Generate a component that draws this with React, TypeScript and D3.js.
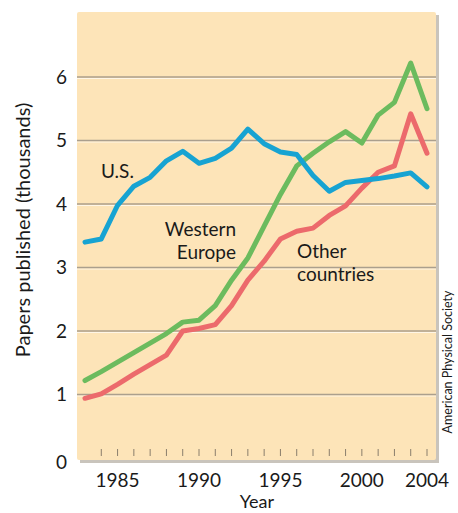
import React, { useEffect, useRef } from 'react';
import * as d3 from 'd3';

const years = [1983, 1984, 1985, 1986, 1987, 1988, 1989, 1990, 1991, 1992, 1993,
  1994, 1995, 1996, 1997, 1998, 1999, 2000, 2001, 2002, 2003, 2004];

const usPapers = [3.40, 3.45, 3.98, 4.28, 4.42, 4.68, 4.83, 4.64, 4.72, 4.88, 5.18,
  4.95, 4.82, 4.78, 4.45, 4.20, 4.34, 4.37, 4.40, 4.44, 4.49, 4.27];
const europePapers = [1.22, 1.36, 1.51, 1.66, 1.81, 1.96, 2.14, 2.17, 2.40, 2.80, 3.15,
  3.65, 4.15, 4.60, 4.80, 4.98, 5.14, 4.96, 5.40, 5.60, 6.22, 5.50];
const otherPapers = [0.94, 1.01, 1.16, 1.32, 1.47, 1.62, 2.00, 2.04, 2.10, 2.40, 2.80,
  3.10, 3.45, 3.57, 3.62, 3.82, 3.97, 4.25, 4.50, 4.60, 5.42, 4.80];

const yTicks = [0, 1, 2, 3, 4, 5, 6];
const xLabels = [1985, 1990, 1995, 2000, 2004];

const W = 458;
const H = 513;
const font = 'Lato, "Open Sans", sans-serif';

export default function App() {
  const ref = useRef<SVGSVGElement>(null);

  useEffect(() => {
    document.body.style.margin = '0';
    const svg = d3.select(ref.current);
    svg.selectAll('*').remove();

    const plot = { left: 77, right: 436, top: 12, bottom: 460 };

    const x = d3.scaleLinear().domain([1983, 2004]).range([85, 427]);
    const y = d3.scaleLinear().domain([0, 6]).range([458, 77]);

    // shadow + background
    svg.append('rect')
      .attr('x', plot.left + 3).attr('y', plot.top + 3)
      .attr('width', plot.right - plot.left).attr('height', plot.bottom - plot.top)
      .attr('fill', '#c9c4bc');
    svg.append('rect')
      .attr('x', plot.left).attr('y', plot.top)
      .attr('width', plot.right - plot.left).attr('height', plot.bottom - plot.top)
      .attr('rx', 2)
      .attr('fill', '#fde4b8');

    // grid
    const grid = yTicks.filter(d => d > 0);
    svg.append('g').selectAll('line.hl').data(grid).enter().append('line')
      .attr('x1', plot.left).attr('x2', plot.right)
      .attr('y1', d => y(d) + 1.5).attr('y2', d => y(d) + 1.5)
      .attr('stroke', '#fff6e6').attr('stroke-width', 1.2);
    svg.append('g').selectAll('line.gl').data(grid).enter().append('line')
      .attr('x1', plot.left).attr('x2', plot.right)
      .attr('y1', d => y(d)).attr('y2', d => y(d))
      .attr('stroke', '#ab9f8d').attr('stroke-width', 1.6);

    // year ticks
    svg.append('g').selectAll('line').data(years.slice(1)).enter().append('line')
      .attr('x1', d => x(d)).attr('x2', d => x(d))
      .attr('y1', 449).attr('y2', 456)
      .attr('stroke', '#8a7e6c').attr('stroke-width', 1);

    // y tick labels
    svg.append('g').selectAll('text').data(yTicks).enter().append('text')
      .attr('x', 67).attr('y', d => (d === 0 ? y(d) + 4 : y(d)))
      .attr('dy', '0.36em')
      .attr('text-anchor', 'end')
      .attr('font-family', font).attr('font-size', 19).attr('fill', '#1a1a1a')
      .text(d => String(d));

    // x tick labels
    svg.append('g').selectAll('text').data(xLabels).enter().append('text')
      .attr('x', d => x(d)).attr('y', 487)
      .attr('text-anchor', 'middle')
      .attr('font-family', font).attr('font-size', 19).attr('fill', '#1a1a1a')
      .text(d => String(d));

    svg.append('text')
      .attr('x', 257).attr('y', 508)
      .attr('text-anchor', 'middle')
      .attr('font-family', font).attr('font-size', 18).attr('fill', '#1a1a1a')
      .text('Year');

    svg.append('text')
      .attr('transform', 'translate(30,230) rotate(-90)')
      .attr('text-anchor', 'middle')
      .attr('font-family', font).attr('font-size', 20).attr('fill', '#1a1a1a')
      .text('Papers published (thousands)');

    svg.append('text')
      .attr('transform', 'translate(452,362) rotate(-90)')
      .attr('text-anchor', 'middle')
      .attr('font-family', font).attr('font-size', 12.5).attr('fill', '#1a1a1a')
      .text('American Physical Society');

    // lines
    const line = d3.line<number>()
      .x((_, i) => x(years[i]))
      .y(d => y(d));

    const series = [
      { values: otherPapers, color: '#ec6a6c' },
      { values: europePapers, color: '#6cbb5e' },
      { values: usPapers, color: '#17a3d2' },
    ];
    series.forEach(s => {
      svg.append('path')
        .attr('d', line(s.values) as string)
        .attr('fill', 'none')
        .attr('stroke', s.color)
        .attr('stroke-width', 5)
        .attr('stroke-linejoin', 'round')
        .attr('stroke-linecap', 'round');
    });

    // series labels
    const label = (txt: string, lx: number, ly: number, anchor: string) => {
      svg.append('text')
        .attr('x', lx).attr('y', ly)
        .attr('text-anchor', anchor)
        .attr('font-family', font).attr('font-size', 19).attr('fill', '#1a1a1a')
        .text(txt);
    };
    label('U.S.', 101, 178, 'start');
    label('Western', 236, 236, 'end');
    label('Europe', 236, 259, 'end');
    label('Other', 297, 258, 'start');
    label('countries', 297, 281, 'start');
  }, []);

  return <svg ref={ref} width={W} height={H} style={{ display: 'block', background: '#fff' }} />;
}
